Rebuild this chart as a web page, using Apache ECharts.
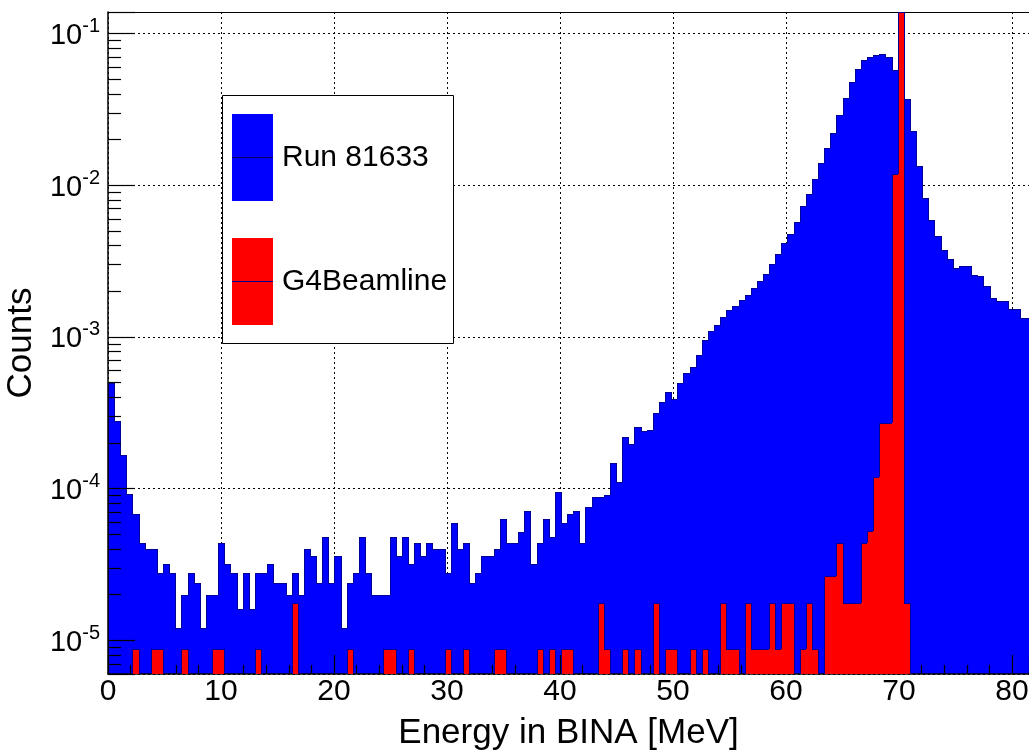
<!DOCTYPE html>
<html><head><meta charset="utf-8">
<script src="https://cdn.jsdelivr.net/npm/echarts@6/dist/echarts.min.js"></script>
<style>html,body{margin:0;padding:0;background:#fff}#c{width:1029px;height:753px}</style>
</head><body><div id="c"></div>
<script>
// ---- data ----
const binWidth = 0.5417;           // MeV per bin
const xMin = 0, xMax = 81.5;
const yMin = 6.0e-6, yMax = 0.1384;
const seriesNames = ['Run 81633', 'G4Beamline'];
const xTickInterval = 10;

const blue = [
 5.0e-4, 2.8e-4, 1.66e-4, 9.2e-5, 6.8e-5, 4.35e-5, 3.97e-5, 3.97e-5, 2.79e-5, 3.18e-5,
 2.79e-5, 1.2e-5, 1.98e-5, 2.79e-5, 2.39e-5, 1.2e-5, 1.98e-5, 1.98e-5, 4.35e-5, 3.18e-5,
 2.79e-5, 1.6e-5, 2.79e-5, 1.6e-5, 2.79e-5, 2.79e-5, 3.18e-5, 2.39e-5, 2.39e-5, 1.98e-5,
 2.79e-5, 1.98e-5, 3.97e-5, 3.57e-5, 2.39e-5, 4.77e-5, 2.39e-5, 3.57e-5, 1.2e-5, 2.39e-5,
 2.79e-5, 4.77e-5, 2.79e-5, 1.98e-5, 1.98e-5, 1.98e-5, 4.77e-5, 3.57e-5, 4.77e-5, 3.18e-5,
 4.38e-5, 3.57e-5, 4.38e-5, 3.97e-5, 3.97e-5, 2.79e-5, 5.94e-5, 3.97e-5, 4.38e-5, 2.39e-5,
 2.79e-5, 3.57e-5, 3.57e-5, 3.97e-5, 6.35e-5, 4.38e-5, 4.38e-5, 5.17e-5, 7.14e-5, 3.18e-5,
 4.38e-5, 6.35e-5, 4.77e-5, 9.53e-5, 5.94e-5, 6.76e-5, 7.14e-5, 4.38e-5, 7.59e-5, 8.75e-5,
 8.75e-5, 9.1e-5, 1.47e-4, 1.11e-4, 2.18e-4, 1.96e-4, 2.54e-4, 2.41e-4, 2.43e-4, 3.13e-4,
 3.74e-4, 4.31e-4, 3.88e-4, 5.0e-4, 5.8e-4, 6.3e-4, 7.6e-4, 9.5e-4, 1.1e-3, 1.2e-3,
 1.35e-3, 1.5e-3, 1.6e-3, 1.75e-3, 1.9e-3, 2.1e-3, 2.35e-3, 2.6e-3, 3.0e-3, 3.52e-3,
 4.14e-3, 4.75e-3, 5.75e-3, 7.3e-3, 8.72e-3, 1.10e-2, 1.39e-2, 1.76e-2, 2.22e-2, 2.92e-2,
 3.75e-2, 4.82e-2, 5.87e-2, 6.64e-2, 6.99e-2, 7.16e-2, 7.31e-2, 6.99e-2, 5.7e-2, 5.0e-2,
 3.71e-2, 2.26e-2, 1.34e-2, 8.17e-3, 5.9e-3, 4.63e-3, 3.71e-3, 3.27e-3, 2.86e-3, 2.92e-3,
 2.95e-3, 2.56e-3, 2.52e-3, 2.16e-3, 1.80e-3, 1.73e-3, 1.72e-3, 1.52e-3, 1.52e-3, 1.33e-3,
 1.33e-3
];

const red = [
 0, 0, 0, 0, 8.8e-6, 0, 0, 8.8e-6, 8.8e-6, 0,
 0, 0, 8.8e-6, 0, 0, 0, 0, 8.8e-6, 8.8e-6, 0,
 0, 0, 0, 0, 8.8e-6, 0, 0, 0, 0, 0,
 1.76e-5, 0, 0, 0, 0, 0, 0, 0, 0, 8.8e-6,
 0, 0, 0, 0, 0, 8.8e-6, 8.8e-6, 0, 0, 8.8e-6,
 0, 0, 0, 0, 0, 8.8e-6, 0, 0, 8.8e-6, 0,
 0, 0, 0, 8.8e-6, 8.8e-6, 0, 0, 0, 0, 0,
 8.8e-6, 0, 8.8e-6, 0, 8.8e-6, 8.8e-6, 0, 0, 0, 0,
 1.76e-5, 8.8e-6, 0, 0, 8.8e-6, 0, 8.8e-6, 0, 0, 1.76e-5,
 0, 8.8e-6, 8.8e-6, 0, 0, 8.8e-6, 0, 8.8e-6, 0, 0,
 1.76e-5, 8.8e-6, 8.8e-6, 0, 1.76e-5, 8.8e-6, 8.8e-6, 8.8e-6, 1.76e-5, 8.8e-6,
 1.76e-5, 1.76e-5, 0, 8.8e-6, 1.76e-5, 8.8e-6, 0, 2.64e-5, 2.64e-5, 4.4e-5,
 1.76e-5, 1.76e-5, 1.76e-5, 4.4e-5, 5.28e-5, 1.2e-4, 2.7e-4, 2.7e-4, 1.18e-2, 0.5,
 1.76e-5, 0, 0, 0, 0, 0, 0, 0, 0, 0,
 0, 0, 0, 0, 0, 0, 0, 0, 0, 0,
 0
];

// ---- rendering ----
const FONT = 'Liberation Sans, Arial, Helvetica, sans-serif';
const LINE = '#000099';

function histData(values) {
  return values.map((v, i) => [i * binWidth, (i + 1) * binWidth, v,
    i > 0 ? values[i - 1] : 0, i === values.length - 1 ? 1 : 0]);
}
function histRenderer(fill) {
  return function (params, api) {
    const cs = params.coordSys;
    const top = cs.y, bottom = cs.y + cs.height;
    const x0 = api.value(0), x1 = api.value(1), v = api.value(2), pv = api.value(3), last = api.value(4);
    const px0 = Math.round(api.coord([x0, yMin])[0]);
    const px1 = Math.round(api.coord([x1, yMin])[0]);
    const yOf = val => val > 0 ? Math.round(Math.max(top, Math.min(bottom, api.coord([x0, val])[1]))) : bottom;
    const yv = yOf(v), ypv = yOf(pv);
    const ch = [];
    if (v > 0) {
      ch.push({type: 'rect', shape: {x: px0, y: yv, width: px1 - px0, height: bottom - yv}, style: {fill: fill}});
      ch.push({type: 'line', shape: {x1: px0, y1: yv + 0.5, x2: px1, y2: yv + 0.5}, style: {stroke: LINE, lineWidth: 1}});
    }
    if (Math.abs(yv - ypv) > 0.01) {
      ch.push({type: 'line', shape: {x1: px0 + 0.5, y1: ypv, x2: px0 + 0.5, y2: yv}, style: {stroke: LINE, lineWidth: 1}});
    }
    if (last && v > 0) {
      ch.push({type: 'line', shape: {x1: px1 - 0.5, y1: yv, x2: px1 - 0.5, y2: bottom}, style: {stroke: LINE, lineWidth: 1}});
    }
    return {type: 'group', children: ch};
  };
}

const chart = echarts.init(document.getElementById('c'), null, {renderer: 'canvas'});
const dotted = {color: '#000', width: 1, type: [2, 3]};

const option = {
  animation: false,
  backgroundColor: '#fff',
  grid: {left: 108, top: 12, right: 0, bottom: 79, containLabel: false, outerBoundsMode: 'none'},
  xAxis: [
    { // grid lines + labels + title
      type: 'value', min: xMin, max: xMax, interval: xTickInterval, position: 'bottom', z: 0,
      axisLine: {show: false, onZero: false}, axisTick: {show: false},
      splitLine: {show: true, lineStyle: dotted},
      axisLabel: {show: true, color: '#000', fontSize: 30, fontFamily: FONT, margin: 3,
                  showMaxLabel: false},
      name: 'Energy in BINA [MeV]', nameLocation: 'middle', nameGap: 42,
      nameTextStyle: {color: '#000', fontSize: 35, fontFamily: FONT}
    },
    { // ticks drawn above the blue histogram
      type: 'value', min: xMin, max: xMax, interval: xTickInterval, position: 'bottom', z: 3,
      axisLine: {show: true, onZero: false, lineStyle: {color: '#000', width: 1.5}},
      axisTick: {show: true, inside: true, length: 19, lineStyle: {color: '#000', width: 1.2}},
      minorTick: {show: true, splitNumber: 5, length: 9, lineStyle: {color: '#000', width: 1.2}},
      splitLine: {show: false}, axisLabel: {show: false}
    },
    { // top frame
      type: 'value', min: xMin, max: xMax, position: 'top', z: 3,
      axisLine: {show: true, onZero: false, lineStyle: {color: '#000', width: 1}},
      axisTick: {show: false}, splitLine: {show: false}, axisLabel: {show: false}
    }
  ],
  yAxis: [
    {
      type: 'log', logBase: 10, min: yMin, max: yMax, position: 'left', z: 0,
      axisLine: {show: false}, axisTick: {show: false},
      splitLine: {show: true, lineStyle: dotted},
      axisLabel: {
        show: true, showMinLabel: false, showMaxLabel: false, margin: 8,
        formatter: function (v) {
          const e = Math.round(Math.log10(v));
          return '{b|10}{s|' + e + '}';
        },
        rich: {
          b: {fontSize: 29, fontFamily: FONT, color: '#000', lineHeight: 34, verticalAlign: 'bottom'},
          s: {fontSize: 20, fontFamily: FONT, color: '#000', verticalAlign: 'top', lineHeight: 34}
        }
      },
      name: 'Counts', nameLocation: 'middle', nameGap: 53, nameRotate: 90,
      nameTextStyle: {color: '#000', fontSize: 35, fontFamily: FONT}
    },
    {
      type: 'log', logBase: 10, min: yMin, max: yMax, position: 'left', z: 3,
      axisLine: {show: true, lineStyle: {color: '#000', width: 1.5}},
      axisTick: {show: true, inside: true, length: 27, lineStyle: {color: '#000', width: 1.2}},
      minorTick: {show: true, splitNumber: 9, length: 13, lineStyle: {color: '#000', width: 1.2}},
      splitLine: {show: false}, axisLabel: {show: false}
    }
  ],
  series: [
    {
      name: seriesNames[0], type: 'custom', xAxisIndex: 0, yAxisIndex: 0, z: 2, silent: true,
      renderItem: histRenderer('#0000ff'), encode: {x: [0, 1], y: 2},
      data: histData(blue)
    },
    {
      name: seriesNames[1], type: 'custom', xAxisIndex: 0, yAxisIndex: 0, z: 4, silent: true,
      renderItem: histRenderer('#ff0000'), encode: {x: [0, 1], y: 2},
      data: histData(red)
    }
  ],
  graphic: [
    {type: 'rect', z: 10, shape: {x: 222.5, y: 95.5, width: 231, height: 248},
     style: {fill: '#fff', stroke: '#000', lineWidth: 1}},
    {type: 'rect', z: 11, shape: {x: 232, y: 114, width: 41, height: 87}, style: {fill: '#0000ff'}},
    {type: 'line', z: 12, shape: {x1: 232, y1: 157.5, x2: 273, y2: 157.5}, style: {stroke: '#000066', lineWidth: 1}},
    {type: 'text', z: 12, x: 282, y: 158, style: {text: seriesNames[0], fontSize: 30, fontFamily: FONT, fill: '#000', verticalAlign: 'middle'}},
    {type: 'rect', z: 11, shape: {x: 232, y: 238, width: 41, height: 87}, style: {fill: '#ff0000'}},
    {type: 'line', z: 12, shape: {x1: 232, y1: 281.5, x2: 273, y2: 281.5}, style: {stroke: LINE, lineWidth: 1}},
    {type: 'text', z: 12, x: 282, y: 282, style: {text: seriesNames[1], fontSize: 30, fontFamily: FONT, fill: '#000', verticalAlign: 'middle'}}
  ]
};
chart.setOption(option);
</script>
</body></html>
